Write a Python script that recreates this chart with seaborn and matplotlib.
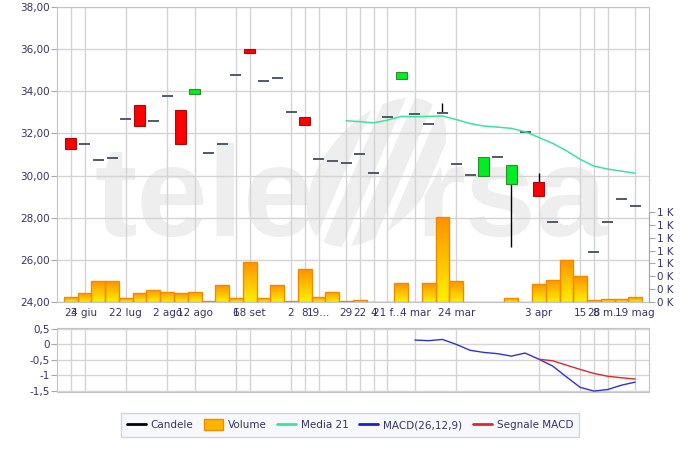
import numpy as np
import pandas as pd
import matplotlib
matplotlib.use("Agg")
import matplotlib.pyplot as plt
import seaborn as sns
from matplotlib.lines import Line2D
from matplotlib.patches import Patch, Ellipse, Polygon
from matplotlib.colors import LinearSegmentedColormap
from matplotlib.ticker import FuncFormatter

# ==============================
# data
# ==============================
nan = np.nan
tick_pos = [0, 1, 4, 7, 9, 12, 13, 16, 17, 18, 20, 21, 22, 23, 25, 28, 34, 37, 38, 39, 41]
tick_labels = ["23", "4 giu", "22 lug", "2 ago", "12 ago", "6", "18 set", "2", "8", "19...",
               "29", "22", "4", "21 f...", "4 mar", "24 mar", "3 apr", "15", "28", "8 m...", "19 mag"]

open_ = [31.80, 31.48, 30.75, 30.82, 32.67, 33.37, 32.58, 33.77, 33.10, 33.88,
         31.08, 31.48, 34.78, 36.01, 34.51, 34.61, 33.01, 32.76, 30.77, 30.69,
         30.59, 31.00, 30.13, 32.80, 34.57, 32.94, 32.44, 32.98, 30.57, 30.02,
         29.99, 30.90, 29.58, 32.09, 29.71, 27.81, nan, nan, 26.36, 27.81,
         28.90, 28.55]
close = [31.26, 31.48, 30.75, 30.82, 32.67, 32.35, 32.58, 33.77, 31.52, 34.13,
         31.08, 31.48, 34.78, 35.84, 34.51, 34.61, 33.01, 32.38, 30.77, 30.69,
         30.59, 31.00, 30.13, 32.80, 34.92, 32.94, 32.44, 32.98, 30.57, 30.02,
         30.89, 30.90, 30.50, 32.09, 29.04, 27.81, nan, nan, 26.36, 27.81,
         28.90, 28.55]
high = [31.80, 31.48, 30.75, 30.82, 32.67, 33.37, 32.58, 33.77, 33.10, 34.13,
        31.08, 31.48, 34.78, 36.01, 34.51, 34.61, 33.01, 32.76, 30.77, 30.69,
        30.59, 31.00, 30.13, 32.80, 34.92, 32.94, 32.44, 33.45, 30.57, 30.02,
        30.89, 30.90, 30.50, 32.09, 30.13, 27.81, nan, nan, 26.36, 27.81,
        28.90, 28.55]
low = [31.26, 31.48, 30.75, 30.82, 32.67, 32.35, 32.58, 33.77, 31.52, 33.88,
       31.08, 31.48, 34.78, 35.84, 34.51, 34.61, 33.01, 32.38, 30.77, 30.69,
       30.59, 31.00, 30.13, 32.80, 34.57, 32.94, 32.44, 32.98, 30.57, 30.02,
       29.99, 30.90, 26.62, 32.09, 29.04, 27.81, nan, nan, 26.36, 27.81,
       28.90, 28.55]
volume = [75, 135, 334, 323, 62, 135, 192, 163, 138, 161,
          8, 264, 62, 625, 62, 264, 8, 508, 75, 161,
          8, 28, 5, 5, 292, 5, 292, 1319, 319, 5,
          5, 5, 59, 5, 277, 350, 656, 397, 28, 44,
          44, 75]
media21 = [nan] * 20 + [32.60, 32.56, 32.50, 32.63, 32.81, 32.79, 32.81, 32.83, 32.66, 32.47,
                        32.35, 32.30, 32.24, 32.08, 31.81, 31.53, 31.18, 30.77, 30.45, 30.31,
                        30.21, 30.11]
macd = [nan] * 25 + [0.14, 0.12, 0.16, 0.00, -0.19, -0.26, -0.30, -0.38, -0.28, -0.48,
                     -0.70, -1.05, -1.39, -1.51, -1.46, -1.32, -1.22]
signal = [nan] * 34 + [-0.48, -0.53, -0.67, -0.81, -0.94, -1.03, -1.08, -1.12]

df = pd.DataFrame({"pos": range(len(volume)), "open": open_, "close": close,
                   "high": high, "low": low, "volume": volume,
                   "media21": media21, "macd": macd, "signal": signal})

# ==============================
# style
# ==============================
sns.set_style("white")
plt.rcParams["font.family"] = ["DejaVu Sans"]
txt_col = "#33336b"
grid_col = "#d4d4d4"
frame_col = "#c4c4c4"
wm_col = "#eeeeee"
fs = 7.5

fig = plt.figure(figsize=(7.0, 4.51), dpi=100)
ax = fig.add_axes([0.08143, 0.33038, 0.84571, 0.65410])
ax_m = fig.add_axes([0.08143, 0.13082, 0.84571, 0.14191])

# watermark: "tele" + sail logo + "rsa"
wm = dict(transform=ax.transAxes, fontsize=92, fontweight="bold", family="Liberation Sans",
          color=wm_col, va="baseline", ha="left", zorder=0)
ax.text(0.064, 0.224, "tele", **wm)
ax.text(0.605, 0.224, "rsa", **wm)
sail = Ellipse((0.54, 0.44), 0.20, 0.52, angle=-15, transform=ax.transAxes,
               facecolor=wm_col, edgecolor="none", zorder=0)
ax.add_patch(sail)
for k in range(4):
    stripe = Polygon([(0.43 + 0.05 * k, 0.18), (0.445 + 0.05 * k, 0.18),
                      (0.565 + 0.05 * k, 0.74), (0.55 + 0.05 * k, 0.74)],
                     closed=True, transform=ax.transAxes, facecolor="white",
                     edgecolor="none", zorder=0.05)
    ax.add_patch(stripe)
    stripe.set_clip_path(sail)

# ==============================
# price: candles + media 21
# ==============================
up = df[df["close"] > df["open"]]
down = df[df["close"] < df["open"]]
flat = df[df["close"] == df["open"]]

ax.vlines(df["pos"], df["low"], df["high"], color="black", lw=1, zorder=3)
ax.bar(up["pos"], up["close"] - up["open"], bottom=up["open"], width=0.8,
       color="#00ee22", edgecolor="#2e8b2e", lw=0.8, zorder=4)
ax.bar(down["pos"], down["open"] - down["close"], bottom=down["close"], width=0.8,
       color="#ff0000", edgecolor="#a01010", lw=0.8, zorder=4)
ax.hlines(flat["close"], flat["pos"] - 0.4, flat["pos"] + 0.4, color="#4d5a6a", lw=1.4, zorder=4)

sns.lineplot(data=df, x="pos", y="media21", ax=ax, color="#3ee39b", lw=1.1, zorder=5)

ax.set_xlim(-1, 42)
ax.set_ylim(24, 38)
ax.set_yticks(np.arange(24, 38.1, 2))
ax.yaxis.set_major_formatter(FuncFormatter(lambda v, p: f"{v:.2f}".replace(".", ",")))
ax.set_axisbelow(True)
ax.grid(True, color=grid_col, lw=1)
for s in ax.spines.values():
    s.set_color(frame_col)

# ==============================
# volume on twin axis
# ==============================
ax_v = ax.twinx()
sns.barplot(data=df, x="pos", y="volume", ax=ax_v, color="#ffb000", width=1.0,
            edgecolor="#f08a00", linewidth=1, saturation=1)
cmap = LinearSegmentedColormap.from_list("vol", ["#fff000", "#ff9200"])
grad = np.linspace(0, 1, 100).reshape(-1, 1)
for p in ax_v.patches:
    x0, w, h = p.get_x(), p.get_width(), p.get_height()
    im = ax_v.imshow(grad, extent=[x0, x0 + w, 0, h], origin="lower", cmap=cmap,
                     aspect="auto", zorder=1)
    im.set_clip_path(p)
    p.set_facecolor("none")
    p.set_zorder(2)
ax_v.set_ylim(0, 4590)
ax_v.set_yticks(np.arange(0, 1401, 200))
ax_v.yaxis.set_major_formatter(FuncFormatter(lambda v, p: f"{round(v / 1000):.0f} K"))
for s in ax_v.spines.values():
    s.set_visible(False)
ax_v.spines["right"].set_visible(True)
ax_v.spines["right"].set_bounds(0, 1400)
ax_v.spines["right"].set_color("#a8a8a8")
ax_v.set_ylabel("")
ax_v.set_xlabel("")
ax_v.tick_params(axis="y", right=True, length=4, width=0.8, color="#a8a8a8",
                 labelsize=fs, labelcolor=txt_col, pad=2)

ax.set_xlim(-1, 42)
ax.set_xticks(tick_pos)
ax.set_xticklabels(tick_labels)
ax.set_xlabel("")
ax.set_ylabel("")
ax.tick_params(axis="x", length=0, labelsize=fs, labelcolor=txt_col, pad=4)
ax.tick_params(axis="y", left=True, length=4, width=0.8, color="#a8a8a8",
               labelsize=fs, labelcolor=txt_col, pad=1)

# ==============================
# MACD panel
# ==============================
sns.lineplot(data=df, x="pos", y="macd", ax=ax_m, color="#3030d8", lw=1)
sns.lineplot(data=df, x="pos", y="signal", ax=ax_m, color="#e02828", lw=1)
ax_m.set_xlim(-1, 42)
ax_m.set_ylim(-1.54, 0.53)
ax_m.set_yticks([0.5, 0, -0.5, -1, -1.5])
ax_m.yaxis.set_major_formatter(FuncFormatter(lambda v, p: f"{v:g}".replace(".", ",")))
ax_m.set_xticks(tick_pos)
ax_m.set_xticklabels([])
ax_m.set_xlabel("")
ax_m.set_ylabel("")
ax_m.grid(True, color=grid_col, lw=1)
ax_m.set_axisbelow(True)
for s in ax_m.spines.values():
    s.set_color(frame_col)
ax_m.tick_params(axis="x", length=0)
ax_m.tick_params(axis="y", left=True, length=4, width=0.8, color="#a8a8a8",
                 labelsize=fs, labelcolor=txt_col, pad=1)

# ==============================
# legend
# ==============================
handles = [
    Line2D([], [], color="black", lw=2, label="Candele"),
    Patch(facecolor="#ffb400", edgecolor="#f08a00", label="Volume"),
    Line2D([], [], color="#3ee39b", lw=2, label="Media 21"),
    Line2D([], [], color="#2020c0", lw=2, label="MACD(26,12,9)"),
    Line2D([], [], color="#e02828", lw=2, label="Segnale MACD"),
]
leg = fig.legend(handles=handles, loc="center", bbox_to_anchor=(0.5, 0.058), ncol=5,
                 fontsize=fs, frameon=True, fancybox=False, facecolor="#f5f7fa",
                 edgecolor="#c8ccd6", labelcolor=txt_col, handlelength=1.8,
                 handleheight=1.2, handletextpad=0.5, columnspacing=1.0, borderpad=0.6)
leg.get_frame().set_linewidth(1)

fig.savefig("out.png", dpi=100)
